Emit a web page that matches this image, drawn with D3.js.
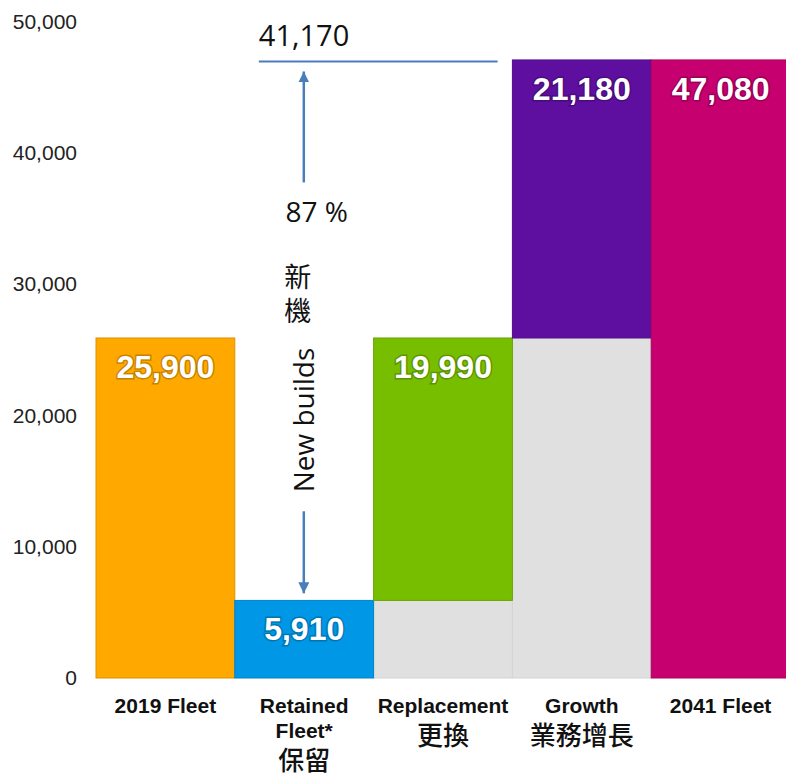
<!DOCTYPE html>
<html>
<head>
<meta charset="utf-8">
<script src="https://cdn.jsdelivr.net/npm/d3@7"></script>
<style>
  body { margin: 0; background: #fff; }
  svg { display: block; }
</style>
</head>
<body>
<div id="chart"></div>
<script>
/* Fleet waterfall: 2019 fleet -> 2041 fleet */

// categories and values
const categories = ["2019 Fleet", "Retained Fleet*", "Replacement", "Growth", "2041 Fleet"];
const catLines = [["2019 Fleet"], ["Retained", "Fleet*"], ["Replacement"], ["Growth"], ["2041 Fleet"]];
const catChinese = ["", "保留", "更換", "業務增長", ""];
const startValues = [0, 0, 5910, 25900, 0];     // where the coloured segment starts
const amounts = [25900, 5910, 19990, 21180, 47080]; // size of coloured segment
const colors = ["#ffa800", "#0097e6", "#77be00", "#5f0f9f", "#c6006f"];
const yTicks = [0, 10000, 20000, 30000, 40000, 50000];

// annotation values
const newBuilds = 41170;
const newBuildsShare = "87 %";

const width = 786,
    height = 776,
    margin = ({ top: 21.6, right: -4, bottom: 98, left: 96 });

let svg = d3.select("#chart")
    .append("svg")
    .attr("width", width)
    .attr("height", height);

let x = d3.scaleBand()
    .domain(categories)
    .range([margin.left, width - margin.right])
    .padding(0);

let y = d3.scaleLinear()
    .domain([0, 50000])
    .range([height - margin.bottom, margin.top]);

// y axis, labels only
let yAxis = svg.append("g")
    .attr("transform", "translate(77,0)")
    .call(d3.axisLeft(y).tickValues(yTicks).tickSize(0).tickPadding(0).tickFormat(d3.format(",")));
yAxis.select(".domain").remove();
yAxis.selectAll("text")
    .attr("font-family", "'Liberation Sans', Arial, sans-serif")
    .attr("font-size", 21)
    .attr("fill", "#222");

let data = categories.map((c, i) => ({
    cat: c, start: startValues[i], amount: amounts[i], end: startValues[i] + amounts[i], color: colors[i]
}));

// grey base under floating segments
svg.selectAll(".base")
    .data(data.filter(d => d.start > 0))
    .join("rect")
    .attr("class", "base")
    .attr("x", d => x(d.cat))
    .attr("width", x.bandwidth())
    .attr("y", d => y(d.start))
    .attr("height", d => y(0) - y(d.start))
    .attr("fill", "#e0e0e0")
    .attr("stroke", "#d4d4d4")
    .attr("stroke-width", 1);

// coloured segments
let bar = svg.selectAll(".bar")
    .data(data)
    .join("g")
    .attr("class", "bar");

bar.append("rect")
    .attr("x", d => x(d.cat))
    .attr("width", x.bandwidth())
    .attr("y", d => y(d.end))
    .attr("height", d => y(d.start) - y(d.end))
    .attr("fill", d => d.color)
    .attr("stroke", d => d3.color(d.color).darker(0.4))
    .attr("stroke-width", 1);

bar.append("text")
    .text(d => d3.format(",")(d.amount))
    .attr("x", d => x(d.cat) + x.bandwidth() / 2)
    .attr("y", d => y(d.end) + 40)
    .attr("text-anchor", "middle")
    .attr("font-family", "'Liberation Sans', Arial, sans-serif")
    .attr("font-weight", "bold")
    .attr("font-size", 32)
    .attr("fill", "white")
    .attr("stroke", d => d3.color(d.color).darker(1.6))
    .attr("stroke-width", 3)
    .attr("stroke-opacity", 0.5)
    .attr("paint-order", "stroke");

// category labels
let cat = svg.selectAll(".cat")
    .data(data)
    .join("g")
    .attr("class", "cat");

cat.each(function(d, i) {
    let g = d3.select(this);
    let cx = x(d.cat) + x.bandwidth() / 2;
    catLines[i].forEach((line, j) => {
        g.append("text")
            .text(line)
            .attr("x", cx)
            .attr("y", 713 + j * 25)
            .attr("text-anchor", "middle")
            .attr("font-family", "'Liberation Sans', Arial, sans-serif")
            .attr("font-weight", "bold")
            .attr("font-size", 21)
            .attr("fill", "#111");
    });
    if (catChinese[i]) {
        g.append("text")
            .text(catChinese[i])
            .attr("x", cx)
            .attr("y", 713 + catLines[i].length * 25 + 7)
            .attr("text-anchor", "middle")
            .attr("font-family", "'Noto Sans CJK TC', sans-serif")
            .attr("font-weight", 500)
            .attr("font-size", 26)
            .attr("fill", "#111");
    }
});

// new builds annotation
const blue = "#4a7ebb";
let ax = x("Retained Fleet*") + 69;

svg.append("line")
    .attr("x1", x("Retained Fleet*") + 24)
    .attr("x2", x("Replacement") + 124)
    .attr("y1", y(47080) + 1.5)
    .attr("y2", y(47080) + 1.5)
    .attr("stroke", blue)
    .attr("stroke-width", 2);

svg.append("text")
    .text(d3.format(",")(newBuilds))
    .attr("x", x("Retained Fleet*") + 24)
    .attr("y", 46)
    .attr("font-family", "'Open Sans', sans-serif")
    .attr("font-size", 29)
    .attr("fill", "#111");

svg.append("defs").append("marker")
    .attr("id", "head")
    .attr("viewBox", "0 0 10 10")
    .attr("refX", 10).attr("refY", 5)
    .attr("markerWidth", 4.4).attr("markerHeight", 4.4)
    .attr("markerUnits", "strokeWidth")
    .attr("orient", "auto")
    .append("path")
    .attr("d", "M0,0L10,5L0,10Z")
    .attr("fill", blue);

// up arrow
svg.append("line")
    .attr("x1", ax).attr("x2", ax)
    .attr("y1", y(37750)).attr("y2", y(46200))
    .attr("stroke", blue)
    .attr("stroke-width", 2.5)
    .attr("marker-end", "url(#head)");

// down arrow
svg.append("line")
    .attr("x1", ax).attr("x2", ax)
    .attr("y1", y(12700)).attr("y2", y(6450))
    .attr("stroke", blue)
    .attr("stroke-width", 2.5)
    .attr("marker-end", "url(#head)");

svg.append("text")
    .text(newBuildsShare)
    .attr("x", ax + 13)
    .attr("y", 222)
    .attr("text-anchor", "middle")
    .attr("font-family", "'Open Sans', sans-serif")
    .attr("font-size", 28)
    .attr("fill", "#111");

// 新機 written top to bottom as one text
svg.append("text")
    .text("新機")
    .attr("x", ax - 6)
    .attr("y", 263)
    .attr("writing-mode", "tb")
    .attr("letter-spacing", 7)
    .attr("font-family", "'Noto Sans CJK TC', sans-serif")
    .attr("font-size", 27)
    .attr("fill", "#111");

svg.append("text")
    .text("New builds")
    .attr("transform", `translate(${ax + 10},420) rotate(-90)`)
    .attr("text-anchor", "middle")
    .attr("font-family", "'Open Sans', sans-serif")
    .attr("font-size", 28)
    .attr("fill", "#111");
</script>
</body>
</html>
